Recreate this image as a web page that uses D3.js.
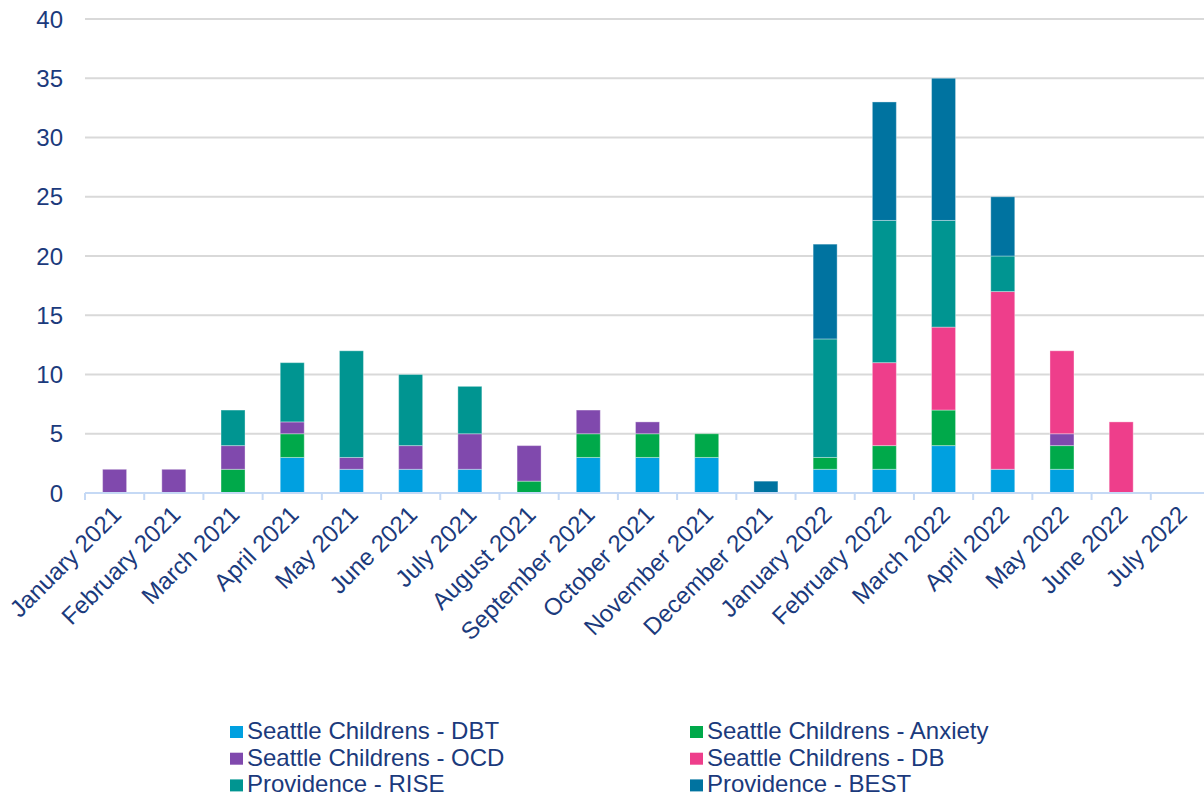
<!DOCTYPE html>
<html><head><meta charset="utf-8">
<script src="https://cdn.jsdelivr.net/npm/d3@7"></script>
<style>
html,body{margin:0;padding:0;background:#fff;}
svg{display:block;font-family:"Liberation Sans",Arial,sans-serif;}
</style></head>
<body><svg id="c" width="1204" height="796"></svg>
<script>
const months = ["January 2021","February 2021","March 2021","April 2021","May 2021","June 2021","July 2021","August 2021","September 2021","October 2021","November 2021","December 2021","January 2022","February 2022","March 2022","April 2022","May 2022","June 2022","July 2022"];
const seriesNames = ["Seattle Childrens - DBT","Seattle Childrens - Anxiety","Seattle Childrens - OCD","Seattle Childrens - DB","Providence - RISE","Providence - BEST"];
const dbt     = [0,0,0,3,2,2,2,0,3,3,3,0,2,2,4,2,2,0,0];
const anxiety = [0,0,2,2,0,0,0,1,2,2,2,0,1,2,3,0,2,0,0];
const ocd     = [2,2,2,1,1,2,3,3,2,1,0,0,0,0,0,0,1,0,0];
const db      = [0,0,0,0,0,0,0,0,0,0,0,0,0,7,7,15,7,6,0];
const rise    = [0,0,3,5,9,6,4,0,0,0,0,0,10,12,9,3,0,0,0];
const best    = [0,0,0,0,0,0,0,0,0,0,0,1,8,10,12,5,0,0,0];
const yTicks = [0,5,10,15,20,25,30,35,40];
const colors = ["#00A0E0","#00A94A","#8049AD","#EE3E8B","#009591","#0073A0"];

const seriesValues = [dbt,anxiety,ocd,db,rise,best];
const table = months.map((m,i)=>{const o={month:m}; seriesNames.forEach((s,j)=>o[s]=seriesValues[j][i]); return o;});
const stacked = d3.stack().keys(seriesNames)(table);

const svg = d3.select("#c");
const textColor = "#1B3A7C";
const xb = d3.scaleBand().domain(months).range([85,1210]);
const y = d3.scaleLinear().domain([0,40]).range([493,19]);

// gridlines
svg.append("g").selectAll("line").data(yTicks.filter(t=>t>0)).join("line")
  .attr("x1",85).attr("x2",1204).attr("y1",d=>y(d)).attr("y2",d=>y(d))
  .attr("stroke","#D9D9D9").attr("stroke-width",2);

// y labels
svg.append("g").selectAll("text").data(yTicks).join("text")
  .attr("x",63).attr("y",d=>y(d)).attr("dy","0.36em").attr("text-anchor","end")
  .attr("font-size",24).attr("fill",textColor).text(d=>d);

// bars
svg.append("g").selectAll("g").data(stacked).join("g")
  .attr("fill",(d,i)=>colors[i])
  .selectAll("rect").data(d=>d.filter(v=>v[1]-v[0]>0)).join("rect")
  .attr("x",d=>xb(d.data.month)+xb.bandwidth()/2-12)
  .attr("width",24)
  .attr("y",d=>y(d[1])).attr("height",d=>y(d[0])-y(d[1]))
  .attr("stroke","rgba(255,255,255,0.35)").attr("stroke-width",1);

// x axis line and ticks
const ax = svg.append("g");
ax.append("line").attr("x1",85).attr("x2",1204).attr("y1",493).attr("y2",493)
  .attr("stroke","#C5D9F5").attr("stroke-width",2);
const tickPos = months.map(m=>xb(m)).concat([xb.range()[1]]);
ax.selectAll("line.t").data(tickPos).join("line").attr("class","t")
  .attr("x1",d=>d).attr("x2",d=>d).attr("y1",493).attr("y2",500)
  .attr("stroke","#C5D9F5").attr("stroke-width",2);

// x labels
svg.append("g").selectAll("text").data(months).join("text")
  .attr("transform",d=>`translate(${xb(d)+xb.bandwidth()/2+8},${516}) rotate(-45)`)
  .attr("text-anchor","end").attr("font-size",24).attr("fill",textColor).text(d=>d);

// legend
const leg = svg.append("g");
seriesNames.forEach((s,i)=>{
  const col = i%2, row = Math.floor(i/2);
  const lx = col===0 ? 230 : 690, base = 739 + row*26.7;
  leg.append("rect").attr("x",lx).attr("y",base-13).attr("width",13).attr("height",12).attr("fill",colors[i]);
  leg.append("text").attr("x",lx+17).attr("y",base)
    .attr("font-size",24).attr("fill",textColor).text(s);
});
</script></body></html>
